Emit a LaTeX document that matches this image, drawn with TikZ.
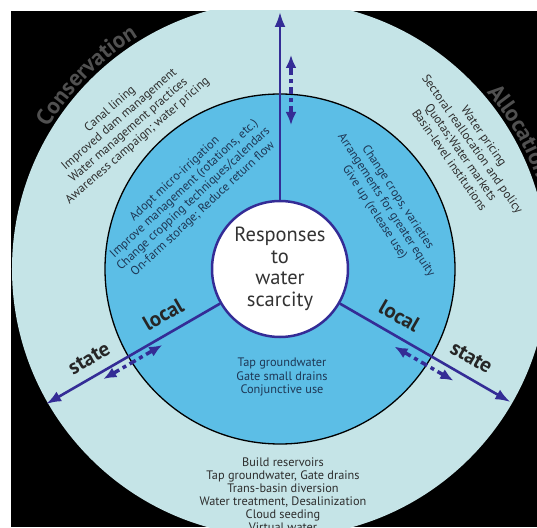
\documentclass[tikz,border=0pt]{standalone}
\usepackage{fontspec}
\setmainfont{PT Sans}
\usetikzlibrary{arrows.meta,calc,decorations.text}
\definecolor{ringlight}{RGB}{197,228,231}
\definecolor{ringblue}{RGB}{92,190,230}
\definecolor{axisblue}{RGB}{52,44,150}
\definecolor{sectorgray}{RGB}{80,80,80}
\definecolor{outertext}{RGB}{45,45,45}
\definecolor{innertext}{RGB}{30,55,85}
\newcommand\sectorfont{\bfseries\fontsize{23}{23}\selectfont}

\begin{document}
\begin{tikzpicture}[x=1pt,y=1pt,
  axisline/.style={draw=axisblue, line width=2.6pt, -{Latex[length=15pt,width=11pt]}},
  linkarrow/.style={draw=axisblue, line width=3.5pt, dash pattern=on 7pt off 4pt on 4pt off 4pt,
    {Latex[length=13pt,width=11pt]}-{Latex[length=13pt,width=11pt]}},
  outerlist/.style={text=outertext, font=\fontsize{12.3}{14}\selectfont, align=center, inner sep=0pt},
  innerlist/.style={text=innertext, font=\fontsize{12.3}{13.8}\selectfont, align=center, inner sep=0pt},
  scalelabel/.style={font=\bfseries\fontsize{21}{21}\selectfont, text=black!85, inner sep=0pt},
  sectorlabel/.style={decorate, decoration={text along path, text align=center, text color=sectorgray}},
]
\useasboundingbox (-280,-258) rectangle (257,269);
\begin{scope}
\clip (-269,-258) rectangle (257,258);
\fill[black] (-269,-258) rectangle (257,258);

% rings
\fill[ringlight] (0,0) circle[radius=268];
\draw[fill=ringblue, line width=1.3pt] (0,0) circle[radius=175];

% sector headings along the outer rim
\path[sectorlabel, decoration={text={|\sectorfont|Conservation}}]
  (165:272) arc[start angle=165, end angle=105, radius=272];
\path[sectorlabel, decoration={text={|\sectorfont|Allocation}}]
  (60:272) arc[start angle=60, end angle=0, radius=272];

% centre
\node[circle, draw=axisblue, line width=2.5pt, fill=white, minimum size=136pt, inner sep=0pt,
      align=center, text=black!80, font=\fontsize{20.5}{21.5}\selectfont] (core) at (0,0)
  {Responses\\to\\water\\scarcity};

% axes
\coordinate (tipN) at (90:257);
\coordinate (tipW) at (210:270);
\coordinate (tipE) at (330:266);
\draw[axisline] (core.90) -- (tipN);
\draw[axisline] (core.210) -- (tipW);
\draw[axisline] (core.330) -- (tipE);

% local <-> state links
\coordinate (mvA) at ($(90:144)+(0:11)$);
\coordinate (mvB) at ($(90:214)+(0:11)$);
\coordinate (mlA) at ($(210:140)+(300:7)$);
\coordinate (mlB) at ($(210:208)+(300:7)$);
\coordinate (mrA) at ($(330:138)+(240:10)$);
\coordinate (mrB) at ($(330:206)+(240:10)$);
\draw[linkarrow] (mvA) -- (mvB);
\draw[linkarrow] (mlA) -- (mlB);
\draw[linkarrow] (mrA) -- (mrB);

% scale labels
\node[scalelabel, rotate=30] (localW) at ($(210:124)+(120:19)$) {local};
\node[scalelabel, rotate=30] (stateW) at ($(210:210)+(120:18)$) {state};
\node[scalelabel, rotate=-30] (localE) at ($(330:127)+(60:19)$) {local};
\node[scalelabel, rotate=-30] (stateE) at ($(330:210)+(60:19)$) {state};

% local responses
\node[innerlist, rotate=43] (cons-local) at (-91,75)
  {Adopt micro-irrigation\\Improve management (rotations, etc.)\\Change cropping techniques/calendars\\On-farm storage; Reduce return flow};
\node[innerlist, rotate=-57] (alloc-local) at (106,64)
  {Change crops, varieties\\Arrangements for greater equity\\Give up (release use)};
\node[innerlist] (supply-local) at (2,-108)
  {Tap groundwater\\Gate small drains\\Conjunctive use};

% state responses
\node[outerlist, rotate=41] (cons-state) at (-156,144)
  {Canal lining\\Improved dam management\\Water management practices\\Awareness campaign; water pricing};
\node[outerlist, rotate=-55] (alloc-state) at (187,121)
  {Water pricing\\Sectoral reallocation and policy\\Quotas;Water markets\\Basin-level institutions};
\node[outerlist, font=\fontsize{12.3}{13}\selectfont] (supply-state) at (3,-225.5)
  {Build reservoirs\\Tap groundwater, Gate drains\\Trans-basin diversion\\Water treatment, Desalinization\\Cloud seeding\\Virtual water};
\end{scope}
\end{tikzpicture}
\end{document}
